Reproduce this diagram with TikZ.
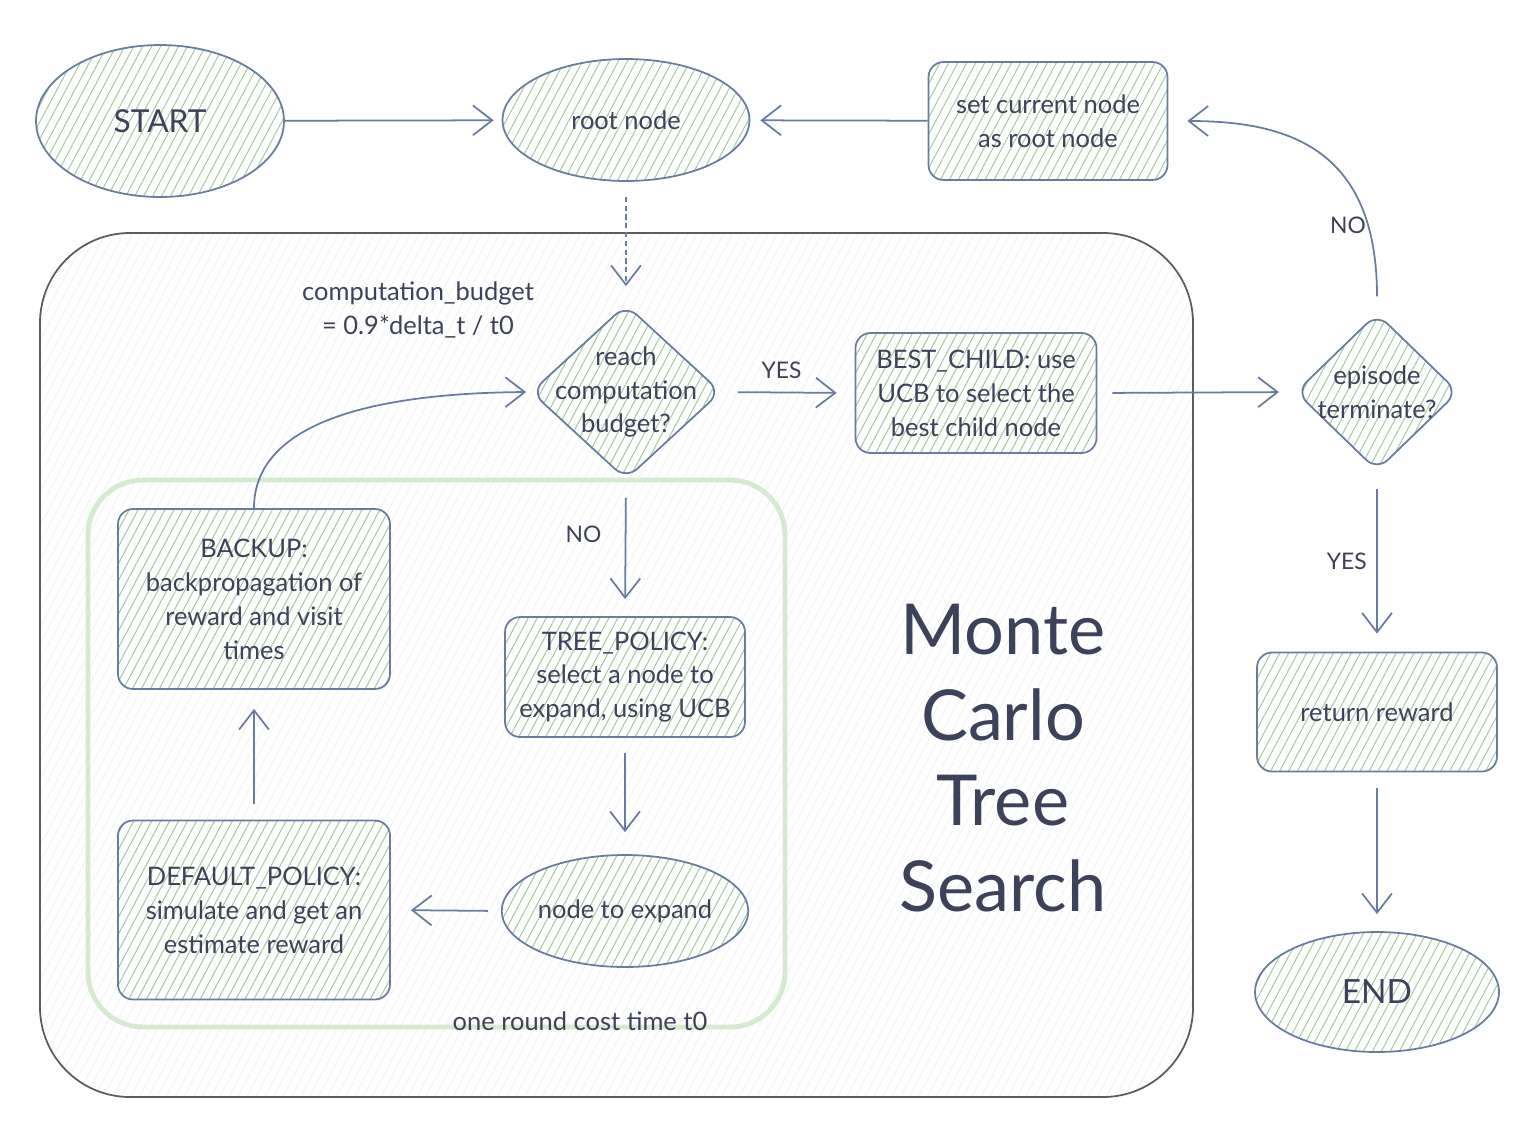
\documentclass[tikz,border=0pt]{standalone}
\usepackage{fontspec}
\setmainfont{Lato}
\usetikzlibrary{arrows.meta,shapes.geometric,patterns.meta}

\definecolor{ink}{HTML}{3D4159}
\definecolor{edge}{HTML}{6A7C9E}
\definecolor{hatchgreen}{HTML}{A9CDA0}
\definecolor{frame}{HTML}{5C5C5C}
\definecolor{band}{HTML}{D6EAD2}

\newcommand{\mctsfont}{\fontsize{14.5}{19.3}\selectfont}
\newcommand{\mctssmall}{\fontsize{13}{15}\selectfont}

\tikzset{
  hatch/.style={pattern={Lines[angle=62,distance=4.5pt,line width=0.6pt]},pattern color=hatchgreen},
  shape base/.style={hatch,draw=edge,line width=1pt,align=center,inner sep=0pt,text=ink,font=\mctsfont},
  flowbox/.style={shape base,rounded corners=0.3cm},
  flowoval/.style={shape base,ellipse},
  flowdiamond/.style={shape base,diamond,rounded corners=0.3cm},
  diamondtext/.style={align=center,text=ink,font=\mctsfont},
  arr/.style={-{Straight Barb[length=11pt,width=17pt]},draw=edge,line width=1pt},
  lbl/.style={text=ink,font=\mctssmall}
}

\begin{document}
\begin{tikzpicture}[x=0.02cm,y=0.02cm]
    \useasboundingbox (0,0) rectangle (1538,-1140);

    % Outer frame of the tree search loop
    \draw[frame,line width=1pt,rounded corners=1.8cm,pattern={Lines[angle=62,distance=4.5pt,line width=0.4pt]},pattern color=gray!12]
        (40,-233) rectangle (1193,-1097);

    % One round of the search
    \draw[band,line width=2.8pt,rounded corners=1.1cm] (88,-480) rectangle (785,-1027);
    \node[lbl,font=\mctsfont] (round) at (580,-1021) {one round cost time t0};

    % Top row
    \node[flowoval,minimum width=4.96cm,minimum height=3.04cm,font=\fontsize{18}{22}\selectfont] (start) at (160,-121) {START};
    \node[flowoval,minimum width=4.94cm,minimum height=2.44cm] (root) at (626,-120) {root node};
    \node[flowbox,minimum width=4.78cm,minimum height=2.36cm] (setroot) at (1048,-121) {set current node\\as root node};

    % Budget check and best child
    \node[flowdiamond,minimum width=3.8cm,minimum height=3.5cm,
          label={[diamondtext]center:{reach\\computation\\budget?}}] (budget) at (626,-392) {};
    \node[lbl,font=\mctsfont,align=center] (budgetnote) at (418,-310) {computation\_budget\\= 0.9*delta\_t / t0};
    \node[flowbox,minimum width=4.82cm,minimum height=2.4cm] (bestchild) at (976,-393) {BEST\_CHILD: use\\UCB to select the\\best child node};

    % Right column
    \node[flowdiamond,minimum width=3.25cm,minimum height=3.15cm,
          label={[diamondtext]center:{episode\\terminate?}}] (episode) at (1377,-392) {};
    \node[flowbox,minimum width=4.8cm,minimum height=2.38cm] (reward) at (1377,-712) {return reward};
    \node[flowoval,minimum width=4.88cm,minimum height=2.4cm,font=\fontsize{19}{22}\selectfont] (end) at (1377,-992) {END};

    % Steps of one round
    \node[flowbox,minimum width=5.44cm,minimum height=3.6cm] (backup) at (254,-599) {BACKUP:\\backpropagation of\\reward and visit\\times};
    \node[flowbox,minimum width=4.8cm,minimum height=2.4cm] (treepolicy) at (625,-677) {TREE\_POLICY:\\select a node to\\expand, using UCB};
    \node[flowoval,minimum width=4.88cm,minimum height=2.24cm] (expand) at (625,-911) {node to expand};
    \node[flowbox,minimum width=5.44cm,minimum height=3.58cm] (default) at (254,-910) {DEFAULT\_POLICY:\\simulate and get an\\estimate reward};

    % Title
    \node[text=ink,align=center,font=\fontsize{40}{48.8}\selectfont] (title) at (1003,-758) {Monte\\Carlo\\Tree\\Search};

    % Connectors
    \draw[arr,shorten >=0.16cm] (start) -- (root);
    \draw[arr,shorten >=0.2cm] (setroot) -- (root);
    \draw[arr,dash pattern=on 3pt off 2pt,shorten <=0.3cm,shorten >=0.35cm] (root.south) -- (budget.north);
    \draw[arr,shorten <=0.32cm,shorten >=0.36cm] (budget.east) -- (bestchild.west)
        node[lbl,pos=0.45,above=4pt] (yes1) {YES};
    \draw[arr,shorten <=0.3cm,shorten >=0.32cm] (bestchild.east) -- (episode.west);
    \draw[arr,shorten <=0.32cm,shorten >=0.38cm] (episode.north) .. controls (1377,-150) and (1290,-121) .. (setroot.east);
    \node[lbl] (no1) at (1348,-225) {NO};
    \draw[arr,shorten <=0.34cm,shorten >=0.36cm] (episode.south) -- (reward.north)
        node[lbl,midway,left=2pt] (yes2) {YES};
    \draw[arr,shorten <=0.32cm,shorten >=0.34cm] (reward.south) -- (end.north);
    \draw[arr,shorten <=0.35cm,shorten >=0.34cm] (budget.south) -- (treepolicy.north)
        node[lbl,pos=0.4,left=10pt] (no2) {NO};
    \draw[arr,shorten <=0.3cm,shorten >=0.44cm] (treepolicy.south) -- (expand.north);
    \draw[arr,shorten <=0.26cm,shorten >=0.4cm] (expand.west) -- (default.east);
    \draw[arr,shorten <=0.32cm,shorten >=0.38cm] (default.north) -- (backup.south);
    \draw[arr,shorten >=0.08cm] (backup.north) .. controls (254,-420) and (380,-393) .. (budget.west);
\end{tikzpicture}
\end{document}
